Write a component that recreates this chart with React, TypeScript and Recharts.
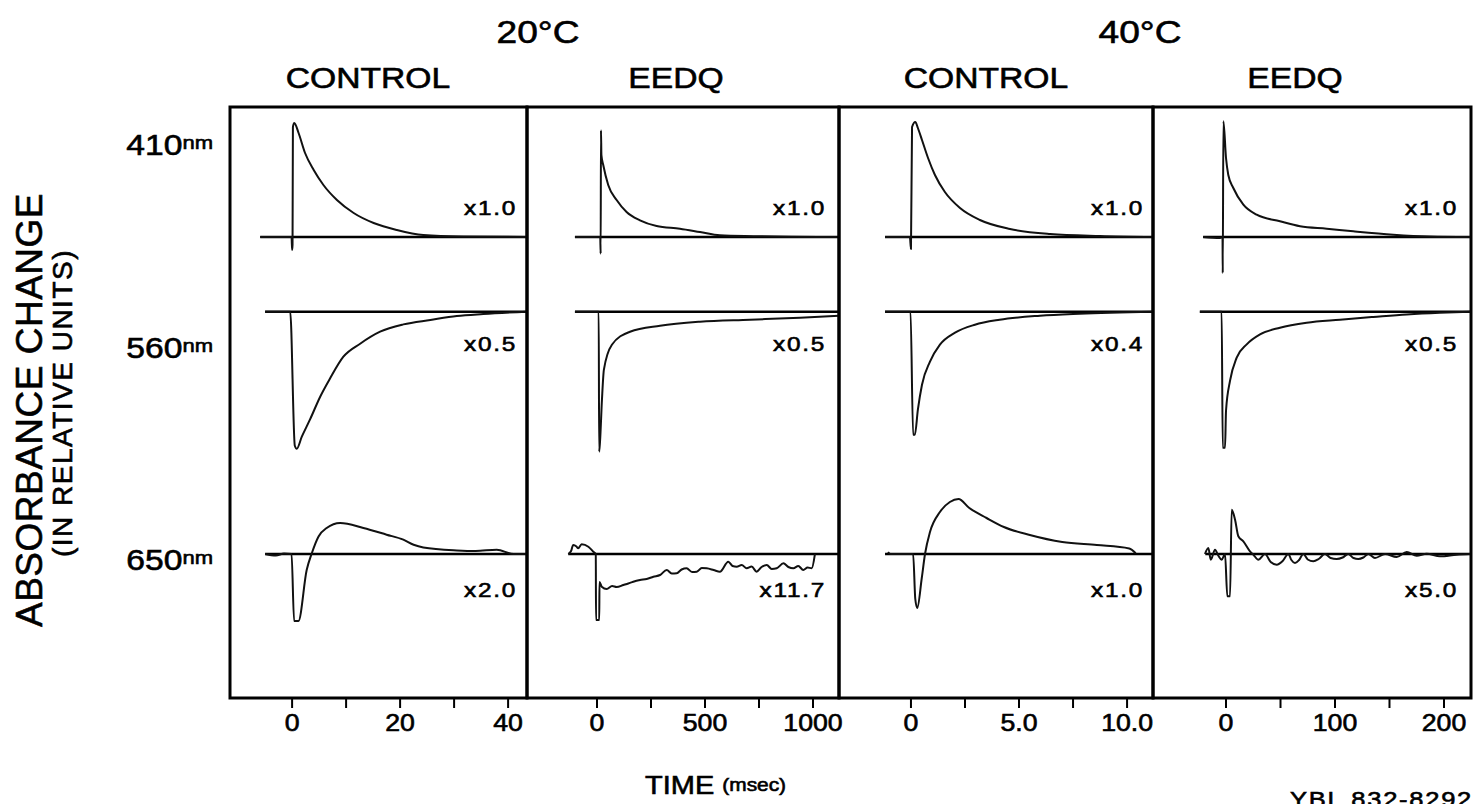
import React from "react";
import { LineChart, Line, XAxis, YAxis, ReferenceArea } from "recharts";

// ---- values: [time, relative absorbance change] ----
// 20°C control, time in msec
const c20_410: [number, number][] = [
  [-5.9, 0], [-0.1, 0], [0, -1.3], [0.08, -0.8], [0.15, 11.0], [0.4, 11.4], [1.2, 10.4], [2.4, 8.4],
  [4, 6.7], [5.8, 5.2], [8.3, 3.7], [11.4, 2.4], [15.1, 1.4], [19.4, 0.7], [24.3, 0.2], [31.7, 0.05], [43.5, 0],
];
const c20_560: [number, number][] = [
  [-5, 0], [-0.35, 0], [0.5, -13.4], [0.86, -13.7], [1.8, -12.5], [3.3, -10.8], [5.2, -8.5], [7, -6.7],
  [9.5, -4.5], [12.6, -3.2], [16.3, -2.0], [20.6, -1.27], [25.6, -0.83], [30.5, -0.43], [35.4, -0.23], [43.5, 0],
];
const c20_650: [number, number][] = [
  [-5, 0], [-3, -0.15], [-1.5, 0.05], [-0.1, 0], [0.37, -6.7], [1.17, -6.7], [2.7, -1.6], [3.6, 0], [4.9, 1.76],
  [6.4, 2.6], [8.9, 3.1], [13.2, 2.6], [17.5, 1.93], [20.6, 1.43], [22.5, 0.93], [24.3, 0.66], [30.5, 0.36],
  [34, 0.3], [37.9, 0.43], [41, 0], [43.5, 0],
];

// 20°C EEDQ
const e20_410: [number, number][] = [
  [-102, 0], [15, 0], [17, -1.67], [18.5, 10.67], [20.5, 8.2], [29, 7.2], [52, 5.2], [91, 3.7], [137, 2.5],
  [199, 1.67], [276, 1.1], [384, 0.83], [477, 0.5], [569, 0.17], [725, 0.08], [900, 0.02], [1111, 0],
];
const e20_560: [number, number][] = [
  [-102, 0], [8, 0], [10, -14], [14, -13], [23, -8.8], [32, -5.8], [69, -3.3], [153, -2.0], [292, -1.4],
  [477, -1.0], [708, -0.8], [940, -0.6], [1120, -0.4],
];
const e20_650: [number, number][] = [
  [-133, 0], [-120, 0.3], [-110, 0.9], [-95, 0.75], [-87, 0.57], [-71, 0.97], [-40, 0.73], [-17, 0.23], [-5.5, 0],
  [-4.5, -6.6], [10.5, -6.6], [11.5, -2.8], [22, -3.27], [45, -3.5], [70, -3.2], [91, -3.3], [122, -3.1], [145, -2.95],
  [168, -2.77], [199, -2.6], [230, -2.5], [261, -2.27], [292, -2.1], [323, -1.6], [346, -1.95], [369, -1.93],
  [392, -1.55], [415, -1.43], [440, -1.8], [462, -1.77], [485, -1.4], [508, -1.43], [540, -1.6], [569, -1.77],
  [608, -0.77], [628, -1.2], [647, -1.27], [670, -1.1], [693, -1.43], [716, -1.25], [739, -1.77], [762, -1.3],
  [786, -1.1], [809, -1.5], [832, -1.43], [863, -0.93], [886, -1.3], [909, -1.43], [932, -1.2], [955, -1.6],
  [975, -1.35], [994, -1.43], [1009, 0],
];

// 40°C control
const c40_410: [number, number][] = [
  [-1.2, 0], [-0.05, 0], [0, -1.2], [0.05, 11.0], [0.2, 11.5], [0.32, 10.9], [0.51, 9.7], [0.79, 7.9],
  [1.11, 6.2], [1.57, 4.5], [2.27, 2.9], [3.19, 1.7], [4.58, 0.8], [6.44, 0.3], [8.75, 0.1], [11.2, 0],
];
const c40_560: [number, number][] = [
  [-1.2, 0], [-0.02, 0], [0.1, -12.3], [0.18, -12.3], [0.32, -9.8], [0.51, -7.3], [0.88, -5.0], [1.34, -3.3],
  [2.04, -2.1], [2.96, -1.3], [4.1, -0.8], [5.97, -0.4], [7.8, -0.2], [11.2, 0],
];
const c40_650: [number, number][] = [
  [-1.06, 0.2], [-0.95, 0], [0.1, 0], [0.2, -4.5], [0.29, -5.4], [0.5, -2.4], [0.65, 0], [0.88, 2.2],
  [1.34, 4.2], [1.8, 5.2], [2.2, 5.5], [2.7, 4.6], [3.5, 3.6], [4.3, 2.7], [5.5, 1.9], [7.0, 1.2], [8.6, 0.9],
  [10.1, 0.56], [10.4, 0.07],
];

// 40°C EEDQ
const e40_410: [number, number][] = [
  [-21, 0], [-5.5, -0.1], [-3.2, 0], [-3, -3.6], [-2.4, 11.57], [0, 7.9], [2.1, 6.2], [6.7, 4.9], [15.9, 3.23],
  [28.1, 2.23], [49.5, 1.57], [67.9, 1.07], [92.4, 0.83], [116.8, 0.57], [153.5, 0.23], [187, 0.05], [224, 0],
];
const e40_560: [number, number][] = [
  [-24, 0], [-4, 0], [-3, -13.6], [-0.9, -13.6], [0, -9.9], [3.7, -6.9], [9.8, -4.6], [19, -3.27], [31.2, -2.27],
  [49.5, -1.6], [74, -1.1], [104.6, -0.8], [135, -0.53], [165.8, -0.27], [196, -0.1], [224, 0],
];
const e40_650: [number, number][] = [
  [-19.3, 0], [-16.2, 0.6], [-14, -0.57], [-10.1, 0.43], [-7, -0.17], [-4, -0.57], [-0.9, 0], [1.2, -4.23],
  [3.7, -4.23], [5.2, 4.43], [8.3, 3.43], [11.3, 1.77], [15.9, 1.27], [22, 0.27], [25.1, -0.07], [29.7, -0.57],
  [35.8, 0], [41, -0.8], [46.5, -1.07], [52, -0.7], [57.2, 0], [60, -0.6], [63.3, -0.9], [67, -0.6], [70.9, 0],
  [75, -0.55], [80.1, -0.73], [85, -0.5], [90.8, 0], [96, -0.4], [101.5, -0.5], [107, -0.35], [112.2, 0],
  [117, -0.4], [121.4, -0.5], [126, -0.35], [130.6, 0], [136.7, -0.4], [145.9, 0], [156.6, -0.3], [165.8, 0.2],
  [175, -0.17], [184.1, 0.03], [196.3, -0.23], [211.6, -0.07], [223.9, 0],
];

// where each row's zero line begins (same time units as the panel)
const baseStart_c20 = [-5.9, -5, -5];
const baseStart_e20 = [-102, -102, -133];
const baseStart_c40 = [-1.2, -1.2, -1.2];
const baseStart_e40 = [-21, -24, -19];

// time axis ticks
const ticks_c20 = [0, 10, 20, 30, 40];
const tickLabels_c20 = ["0", "", "20", "", "40"];
const ticks_e20 = [0, 250, 500, 750, 1000];
const tickLabels_e20 = ["0", "", "500", "", "1000"];
const ticks_c40 = [0, 2.5, 5, 7.5, 10];
const tickLabels_c40 = ["0", "", "5.0", "", "10.0"];
const ticks_e40 = [0, 50, 100, 150, 200];
const tickLabels_e40 = ["0", "", "100", "", "200"];

// scale factors printed in each panel (rows 410, 560, 650 nm)
const scales_c20 = ["x1.0", "x0.5", "x2.0"];
const scales_e20 = ["x1.0", "x0.5", "x11.7"];
const scales_c40 = ["x1.0", "x0.4", "x1.0"];
const scales_e40 = ["x1.0", "x0.5", "x5.0"];

const wavelengths = ["410", "560", "650"];
const temps = ["20°C", "40°C"];
const conditions = ["CONTROL", "EEDQ", "CONTROL", "EEDQ"];

// ---- layout ----
const FONT = "'Liberation Sans', Arial, Helvetica, sans-serif";
const SX = 1.16; // the scan is stretched sideways
const PLOT_TOP = 107;
const PLOT_H = 591;
const Y_MAX = 59.1;
const ROW_BASE = [46.1, 38.63, 14.4];
const M = 12;
const AXIS_H = 40;

const panels = [
  { left: 230, right: 527, domain: [-11.5, 43.5], traces: [c20_410, c20_560, c20_650], starts: baseStart_c20, ticks: ticks_c20, labels: tickLabels_c20, scales: scales_c20, scaleX: 517 },
  { left: 527, right: 839, domain: [-324, 1120.4], traces: [e20_410, e20_560, e20_650], starts: baseStart_e20, ticks: ticks_e20, labels: tickLabels_e20, scales: scales_e20, scaleX: 826 },
  { left: 839, right: 1153, domain: [-3.33, 11.2], traces: [c40_410, c40_560, c40_650], starts: baseStart_c40, ticks: ticks_c40, labels: tickLabels_c40, scales: scales_c40, scaleX: 1144 },
  { left: 1153, right: 1471, domain: [-67, 224.8], traces: [e40_410, e40_560, e40_650], starts: baseStart_e40, ticks: ticks_e40, labels: tickLabels_e40, scales: scales_e40, scaleX: 1458 },
];

const toRows = (pairs: [number, number][], base: number) => pairs.map(([t, a]) => ({ t, v: base + a }));

function Txt({ x, y, size, anchor = "middle", rotate, ls, sx = SX, children }: any) {
  return (
    <text
      transform={`translate(${x} ${y}) scale(${sx} 1)${rotate ? ` rotate(${rotate})` : ""}`}
      fontSize={size}
      textAnchor={anchor}
      letterSpacing={ls}
      fontFamily={FONT}
      fill="#000"
      stroke="#000"
      strokeWidth={0.6}
    >
      {children}
    </text>
  );
}

function TimeTick(props: any) {
  const { x, y, payload, ticks, labels } = props;
  const label = labels[ticks.indexOf(payload.value)];
  if (!label) return <g />;
  return <Txt x={x} y={y + 21} size={23}>{label}</Txt>;
}

function Panel({ p }: { p: (typeof panels)[number] }) {
  const w = p.right - p.left;
  return (
    <div style={{ position: "absolute", left: p.left - M, top: PLOT_TOP - M }}>
      <LineChart width={w + 2 * M} height={M + PLOT_H + AXIS_H} margin={{ top: M, right: M, left: M, bottom: 0 }}>
        <XAxis
          type="number"
          dataKey="t"
          domain={p.domain}
          allowDataOverflow
          ticks={p.ticks}
          interval={0}
          tickSize={10}
          height={AXIS_H}
          axisLine={false}
          tickLine={{ stroke: "#000", strokeWidth: 2 }}
          tick={(tp: any) => <TimeTick {...tp} ticks={p.ticks} labels={p.labels} />}
        />
        <YAxis type="number" domain={[0, Y_MAX]} hide allowDataOverflow />
        <ReferenceArea
          x1={p.domain[0]}
          x2={p.domain[1]}
          y1={0}
          y2={Y_MAX}
          fill="none"
          fillOpacity={0}
          stroke="#000"
          strokeWidth={3}
          ifOverflow="visible"
        />
        {p.traces.map((tr, i) => (
          <Line
            key={`base-${i}`}
            data={toRows([[p.starts[i], 0], [p.domain[1], 0]], ROW_BASE[i])}
            dataKey="v"
            stroke="#000"
            strokeWidth={2.5}
            dot={false}
            activeDot={false}
            isAnimationActive={false}
          />
        ))}
        {p.traces.map((tr, i) => (
          <Line
            key={`trace-${i}`}
            data={toRows(tr, ROW_BASE[i])}
            dataKey="v"
            type="monotone"
            stroke="#111"
            strokeWidth={2}
            strokeLinejoin="round"
            dot={false}
            activeDot={false}
            isAnimationActive={false}
          />
        ))}
      </LineChart>
    </div>
  );
}

const ROW_LABEL_Y = [155, 358, 570];
const SCALE_Y = [215, 351, 597];
const COND_X = [368, 676, 986, 1295];
const TEMP_X = [538, 1140];

export default function App() {
  return (
    <div style={{ position: "absolute", left: 0, top: 0, width: 1476, height: 804, overflow: "hidden", background: "#fff" }}>
      {panels.map((p, i) => (
        <Panel key={i} p={p} />
      ))}
      <svg width={1476} height={804} style={{ position: "absolute", left: 0, top: 0, pointerEvents: "none" }}>
        {temps.map((t, i) => (
          <Txt key={t} x={TEMP_X[i]} y={43} size={32}>{t}</Txt>
        ))}
        {conditions.map((c, i) => (
          <Txt key={i} x={COND_X[i]} y={88} size={29}>{c}</Txt>
        ))}
        {wavelengths.map((w, i) => (
          <Txt key={w} x={213} y={ROW_LABEL_Y[i]} size={29} anchor="end">
            {w}
            <tspan fontSize={19} dy={-6}>nm</tspan>
          </Txt>
        ))}
        {panels.map((p, pi) =>
          p.scales.map((s, i) => (
            <Txt key={`${pi}-${i}`} x={p.scaleX} y={SCALE_Y[i]} size={21} anchor="end" ls={1.5}>{s}</Txt>
          ))
        )}
        <Txt x={42} y={410} size={37} sx={1} rotate={-90} ls={0.5}>ABSORBANCE CHANGE</Txt>
        <Txt x={72} y={403} size={28} sx={1} rotate={-90} ls={1.5}>(IN RELATIVE UNITS)</Txt>
        <Txt x={645} y={794} size={25} anchor="start">
          TIME <tspan fontSize={18} dy={-3}>(msec)</tspan>
        </Txt>
        <Txt x={1290} y={807} size={22} anchor="start" ls={1.5}>YBL 832-8292</Txt>
      </svg>
    </div>
  );
}
